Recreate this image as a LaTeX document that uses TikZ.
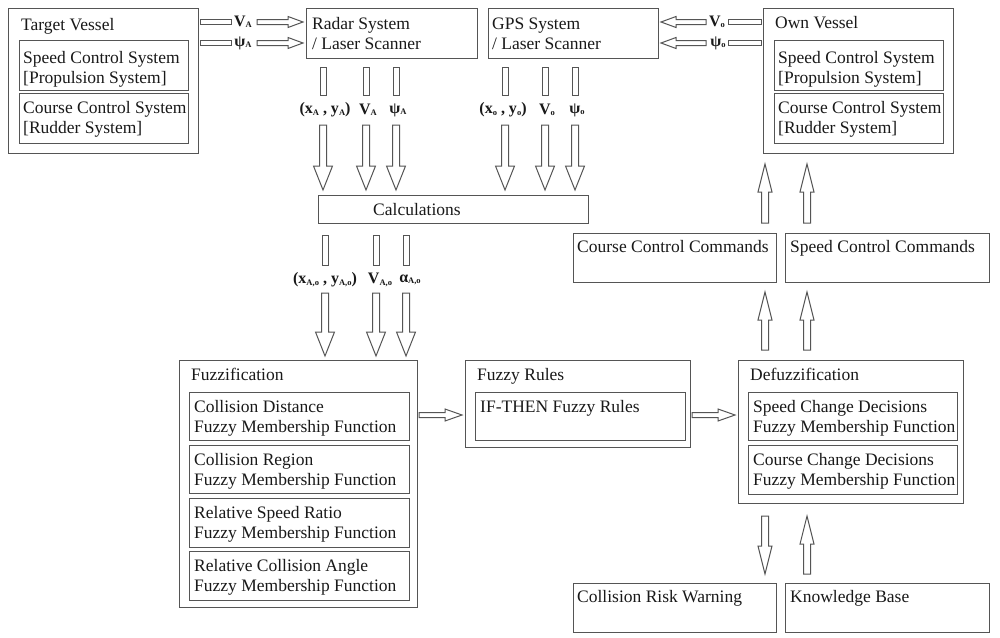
\documentclass[tikz,border=0pt]{standalone}
\usepackage{fontspec}
\setmainfont{Liberation Serif}
\usetikzlibrary{calc}
\definecolor{linec}{RGB}{85,85,85}
\definecolor{textc}{RGB}{25,25,25}

% small lowered index used in the signal labels
\newcommand\sub[1]{\raisebox{-1.5pt}{\fontsize{8.5}{9}\selectfont #1}}

% hollow block arrow: from, to, shaft half-width, head half-width, head length
\newcommand\hollowarrow[5]{%
  \draw[arrowline] let \p1=(#1), \p2=(#2), \n1={atan2(\y2-\y1,\x2-\x1)},
      \n2={\n1+90}, \n3={\n1-90}, \n4={\n1+180} in
    ($(#1)+(\n2:#3)$) -- ($(#2)+(\n4:#5)+(\n2:#3)$) -- ($(#2)+(\n4:#5)+(\n2:#4)$)
    -- (#2) -- ($(#2)+(\n4:#5)+(\n3:#4)$) -- ($(#2)+(\n4:#5)+(\n3:#3)$)
    -- ($(#1)+(\n3:#3)$) -- cycle;}
% hollow bar (arrow shaft without a head): from, to, half-width
\newcommand\hollowbar[3]{%
  \draw[arrowline] let \p1=(#1), \p2=(#2), \n1={atan2(\y2-\y1,\x2-\x1)},
      \n2={\n1+90}, \n3={\n1-90} in
    ($(#1)+(\n2:#3)$) -- ($(#2)+(\n2:#3)$) -- ($(#2)+(\n3:#3)$) -- ($(#1)+(\n3:#3)$) -- cycle;}

\tikzset{
  box/.style={draw=linec, line width=1.3pt, anchor=north west, inner sep=0pt, fill=white},
  txt/.style={anchor=north west, inner sep=0pt, align=left, text=textc,
              font=\fontsize{17.5}{20}\selectfont},
  lab/.style={inner sep=0pt, text=textc, font=\fontsize{16}{18}\selectfont},
  blab/.style={lab, font=\fontsize{16}{18}\selectfont\bfseries},
  arrowline/.style={draw=linec, line width=1pt, fill=white, line join=miter},
}

\begin{document}
\begin{tikzpicture}[x=1pt, y=-1pt]
\useasboundingbox[fill=white] (0,0) rectangle (1000,637);

% ---------- vessels and sensors ----------
\node[box, minimum width=190pt, minimum height=145pt] (tv) at (8,8) {};
\node[txt] (tvt) at (21,16) {\strut Target Vessel};
\node[box, minimum width=169pt, minimum height=50pt] (tv1) at (19,40) {};
\node[txt] (tv1t) at (23,49) {\strut Speed Control System\\{[}Propulsion System{]}};
\node[box, minimum width=169pt, minimum height=50pt] (tv2) at (19,93) {};
\node[txt] (tv2t) at (23,99) {\strut Course Control System\\{[}Rudder System{]}};

\node[box, minimum width=171pt, minimum height=50pt] (radar) at (306,8) {};
\node[txt] (radart) at (312,15) {\strut Radar System\\/ Laser Scanner};

\node[box, minimum width=170pt, minimum height=50pt] (gps) at (488,8) {};
\node[txt] (gpst) at (492,15) {\strut GPS System\\/ Laser Scanner};

\node[box, minimum width=190pt, minimum height=145pt] (ov) at (763,8) {};
\node[txt] (ovt) at (775,14) {\strut Own Vessel};
\node[box, minimum width=169pt, minimum height=50pt] (ov1) at (774,40) {};
\node[txt] (ov1t) at (778,49) {\strut Speed Control System\\{[}Propulsion System{]}};
\node[box, minimum width=169pt, minimum height=50pt] (ov2) at (774,93) {};
\node[txt] (ov2t) at (778,99) {\strut Course Control System\\{[}Rudder System{]}};

% ---------- calculations and commands ----------
\node[box, minimum width=270pt, minimum height=28pt] (calc) at (318,195) {};
\node[txt] (calct) at (373,201) {\strut Calculations};

\node[box, minimum width=203pt, minimum height=49pt] (ccc) at (573,233) {};
\node[txt] (ccct) at (577,238) {\strut Course Control Commands};
\node[box, minimum width=204pt, minimum height=49pt] (scc) at (785,233) {};
\node[txt] (scct) at (790,238) {\strut Speed Control Commands};

% ---------- fuzzy inference ----------
\node[box, minimum width=238pt, minimum height=247pt] (fz) at (179,360) {};
\node[txt] (fzt) at (191,366) {\strut Fuzzification};
\node[box, minimum width=220pt, minimum height=48pt] (fz1) at (189,392) {};
\node[txt] (fz1t) at (194,398) {\strut Collision Distance\\Fuzzy Membership Function};
\node[box, minimum width=220pt, minimum height=48pt] (fz2) at (189,445) {};
\node[txt] (fz2t) at (194,451) {\strut Collision Region\\Fuzzy Membership Function};
\node[box, minimum width=220pt, minimum height=49pt] (fz3) at (189,498) {};
\node[txt] (fz3t) at (194,504) {\strut Relative Speed Ratio\\Fuzzy Membership Function};
\node[box, minimum width=220pt, minimum height=49pt] (fz4) at (189,551) {};
\node[txt] (fz4t) at (194,557) {\strut Relative Collision Angle\\Fuzzy Membership Function};

\node[box, minimum width=225pt, minimum height=87pt] (fr) at (465,360) {};
\node[txt] (frt) at (477,366) {\strut Fuzzy Rules};
\node[box, minimum width=210pt, minimum height=48pt] (fr1) at (475,392) {};
\node[txt] (fr1t) at (480,398) {\strut IF-THEN Fuzzy Rules};

\node[box, minimum width=225pt, minimum height=143pt] (dz) at (738,360) {};
\node[txt] (dzt) at (750,366) {\strut Defuzzification};
\node[box, minimum width=209pt, minimum height=48pt] (dz1) at (748,392) {};
\node[txt] (dz1t) at (753,398) {\strut Speed Change Decisions\\Fuzzy Membership Function};
\node[box, minimum width=209pt, minimum height=49pt] (dz2) at (748,445) {};
\node[txt] (dz2t) at (753,451) {\strut Course Change Decisions\\Fuzzy Membership Function};

\node[box, minimum width=203pt, minimum height=49pt] (crw) at (573,583) {};
\node[txt] (crwt) at (577,588) {\strut Collision Risk Warning};
\node[box, minimum width=204pt, minimum height=49pt] (kb) at (785,583) {};
\node[txt] (kbt) at (790,588) {\strut Knowledge Base};

% ---------- target vessel -> radar ----------
\coordinate (ta1) at (200,22); \coordinate (ta2) at (231,22);
\coordinate (ta3) at (257,22); \coordinate (ta4) at (303,22);
\coordinate (tb1) at (200,43); \coordinate (tb2) at (231,43);
\coordinate (tb3) at (257,43); \coordinate (tb4) at (303,43);
\hollowbar{ta1}{ta2}{2.5pt} \hollowarrow{ta3}{ta4}{2.5pt}{5.5pt}{15pt}
\hollowbar{tb1}{tb2}{2.5pt} \hollowarrow{tb3}{tb4}{2.5pt}{5.5pt}{15pt}
\node[blab] (lva) at (243,22) {V\sub{A}};
\node[blab] (lpa) at (243,43) {ψ\sub{A}};

% ---------- own vessel -> GPS ----------
\coordinate (oa1) at (761,22); \coordinate (oa2) at (728,22);
\coordinate (oa3) at (706,22); \coordinate (oa4) at (661,22);
\coordinate (ob1) at (761,43); \coordinate (ob2) at (728,43);
\coordinate (ob3) at (706,43); \coordinate (ob4) at (661,43);
\hollowbar{oa1}{oa2}{2.5pt} \hollowarrow{oa3}{oa4}{2.5pt}{5.5pt}{15pt}
\hollowbar{ob1}{ob2}{2.5pt} \hollowarrow{ob3}{ob4}{2.5pt}{5.5pt}{15pt}
\node[blab] (lvo) at (717,22) {V\sub{o}};
\node[blab] (lpo) at (718,43) {ψ\sub{o}};

% ---------- sensors -> calculations ----------
\foreach \xx/\id in {323/r1,366/r2,396/r3,505/g1,545/g2,575/g3}{
  \coordinate (\id a) at (\xx,67); \coordinate (\id b) at (\xx,95);
  \coordinate (\id c) at (\xx,125); \coordinate (\id d) at (\xx,190);
  \hollowbar{\id a}{\id b}{3pt}
  \hollowarrow{\id c}{\id d}{3.5pt}{9.5pt}{24pt}
}
\node[blab] (lxya) at (325,110) {(x\sub{A} , y\sub{A})};
\node[blab] (lvar) at (368,110) {V\sub{A}};
\node[blab] (lpar) at (398,110) {ψ\sub{A}};
\node[blab] (lxyo) at (503,110) {(x\sub{o} , y\sub{o})};
\node[blab] (lvog) at (547,110) {V\sub{o}};
\node[blab] (lpog) at (577,110) {ψ\sub{o}};

% ---------- calculations -> fuzzification ----------
\foreach \xx/\id in {325/c1,376/c2,406/c3}{
  \coordinate (\id a) at (\xx,235); \coordinate (\id b) at (\xx,265);
  \coordinate (\id c) at (\xx,293); \coordinate (\id d) at (\xx,356);
  \hollowbar{\id a}{\id b}{3pt}
  \hollowarrow{\id c}{\id d}{3.5pt}{9.5pt}{24pt}
}
\node[blab] (lxyao) at (325,280) {(x\sub{A,o} , y\sub{A,o})};
\node[blab] (lvao) at (380,280) {V\sub{A,o}};
\node[blab] (laao) at (410,280) {α\sub{A,o}};

% ---------- fuzzy chain ----------
\coordinate (f1) at (419,415); \coordinate (f2) at (462,415);
\coordinate (f3) at (692,415); \coordinate (f4) at (735,415);
\hollowarrow{f1}{f2}{2.5pt}{6pt}{17pt}
\hollowarrow{f3}{f4}{2.5pt}{6pt}{17pt}

% ---------- defuzzification -> commands -> own vessel ----------
\coordinate (u1a) at (765,350); \coordinate (u1b) at (765,292);
\coordinate (u2a) at (807,350); \coordinate (u2b) at (807,292);
\coordinate (u3a) at (765,223); \coordinate (u3b) at (765,164);
\coordinate (u4a) at (807,223); \coordinate (u4b) at (807,164);
\hollowarrow{u1a}{u1b}{3.5pt}{7pt}{28pt}
\hollowarrow{u2a}{u2b}{3.5pt}{7pt}{28pt}
\hollowarrow{u3a}{u3b}{3.5pt}{7pt}{28pt}
\hollowarrow{u4a}{u4b}{3.5pt}{7pt}{28pt}

% ---------- defuzzification <-> warning / knowledge base ----------
\coordinate (d1a) at (765,516); \coordinate (d1b) at (765,574);
\coordinate (d2a) at (807,574); \coordinate (d2b) at (807,516);
\hollowarrow{d1a}{d1b}{3.5pt}{7pt}{28pt}
\hollowarrow{d2a}{d2b}{3.5pt}{7pt}{28pt}
\end{tikzpicture}
\end{document}
